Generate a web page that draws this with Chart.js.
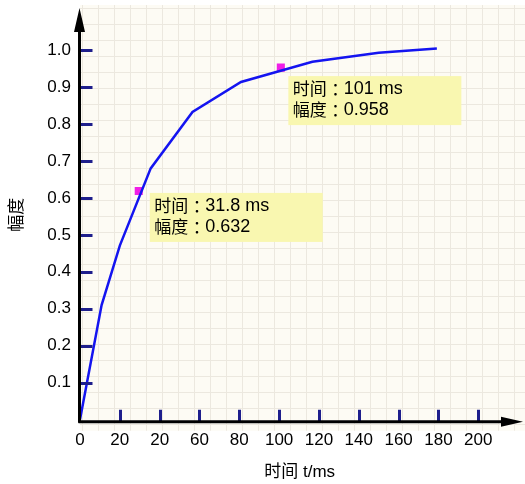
<!DOCTYPE html>
<html lang="zh">
<head>
  <meta charset="UTF-8" />
  <title>幅度 - 时间</title>
  <script src="https://cdn.jsdelivr.net/npm/chart.js"></script>
  <style>
    body { margin: 0; background: #fff; }
    canvas { display: block; }
  </style>
</head>
<body>
  <canvas id="chart" width="525" height="484"></canvas>

  <script>
    // curve
    const tValues = [0, 10.85, 20, 35.5, 56.5, 80.85, 116.7, 150, 179.2];
    const ampValues = [0, 0.31, 0.471, 0.68, 0.833, 0.914, 0.969, 0.993, 1.005];

    // marked points + their labels
    const markT = [29.5, 100.85];
    const markAmp = [0.619, 0.953];
    const markTimeText = ['时间：31.8 ms', '时间：101 ms'];
    const markAmpText = ['幅度：0.632', '幅度：0.958'];

    // ticks (the second "20" is really in the original)
    const xTickValues = [0, 20, 40, 60, 80, 100, 120, 140, 160, 180, 200];
    const xTickLabels = ['0', '20', '20', '60', '80', '100', '120', '140', '160', '180', '200'];
    const yTickValues = [0.1, 0.2, 0.3, 0.4, 0.5, 0.6, 0.7, 0.8, 0.9, 1.0];
    const yTickLabels = ['0.1', '0.2', '0.3', '0.4', '0.5', '0.6', '0.7', '0.8', '0.9', '1.0'];

    const FONT = '"Liberation Sans", "Noto Sans CJK SC", sans-serif';

    // background paper, axes with arrows, inward tick marks, note boxes
    const paperPlugin = {
      id: 'paper',
      beforeDraw(chart) {
        const { ctx, chartArea: a } = chart;
        ctx.save();
        ctx.fillStyle = '#fdfbf4';
        ctx.fillRect(a.left, a.top - 3, chart.width - a.left, a.bottom - a.top + 12);
        ctx.strokeStyle = '#ece8df';
        ctx.lineWidth = 1;
        ctx.beginPath();
        for (let x = a.left + 2.5; x < chart.width; x += 16) {
          ctx.moveTo(x, a.top - 3);
          ctx.lineTo(x, a.bottom + 9);
        }
        for (let y = Math.round(a.bottom) + 2.5; y > a.top - 3; y -= 16) {
          ctx.moveTo(a.left, y);
          ctx.lineTo(chart.width, y);
        }
        ctx.stroke();
        ctx.restore();
      },
      afterDatasetsDraw(chart) {
        const { ctx, scales: { x, y }, chartArea: a } = chart;
        const x0 = x.getPixelForValue(0) - 0.5;
        const yAxis = a.bottom;
        const tipX = chart.width - 2;
        ctx.save();

        // tick marks pointing into the plot
        ctx.strokeStyle = '#1e1e8c';
        ctx.lineWidth = 3;
        ctx.beginPath();
        yTickValues.forEach(v => {
          const py = Math.round(y.getPixelForValue(v)) + 0.5;
          ctx.moveTo(x0, py);
          ctx.lineTo(x0 + 13, py);
        });
        xTickValues.slice(1).forEach(v => {
          const px = Math.round(x.getPixelForValue(v)) + 0.5;
          ctx.moveTo(px, yAxis);
          ctx.lineTo(px, yAxis - 12);
        });
        ctx.stroke();

        // axes
        ctx.strokeStyle = '#000';
        ctx.fillStyle = '#000';
        ctx.lineWidth = 3;
        ctx.beginPath();
        ctx.moveTo(x0, yAxis + 1);
        ctx.lineTo(x0, a.top + 20);
        ctx.moveTo(x0 - 1, yAxis);
        ctx.lineTo(tipX - 14, yAxis);
        ctx.stroke();
        ctx.beginPath();
        ctx.moveTo(x0, a.top);
        ctx.lineTo(x0 - 5.5, a.top + 24);
        ctx.lineTo(x0 + 5.5, a.top + 24);
        ctx.closePath();
        ctx.moveTo(tipX, yAxis);
        ctx.lineTo(tipX - 22, yAxis - 5);
        ctx.lineTo(tipX - 22, yAxis + 5);
        ctx.closePath();
        ctx.fill();

        // yellow note boxes next to the marked points
        const boxOffsets = [[11, 2], [7.5, 8.5]];
        const cjkFont = '17px "Noto Sans CJK SC", sans-serif';
        const numFont = '18px "Liberation Sans", sans-serif';
        const drawLine = (txt, tx, ty) => {
          const cut = txt.indexOf('：');
          const head = txt.slice(0, cut);
          ctx.font = cjkFont;
          ctx.textAlign = 'left';
          ctx.fillText(head, tx, ty);
          let cx = tx + ctx.measureText(head).width;
          // full-width colon, ink centred in its 17px cell
          const m = ctx.measureText('：');
          const inkMid = (m.actualBoundingBoxRight - m.actualBoundingBoxLeft) / 2;
          ctx.fillText('：', cx + 8.5 - inkMid, ty);
          cx += 17;
          ctx.font = numFont;
          ctx.fillText(txt.slice(cut + 1), cx, ty + 0.5);
        };
        ctx.textBaseline = 'middle';
        markT.forEach((t, i) => {
          const px = x.getPixelForValue(t);
          const py = y.getPixelForValue(markAmp[i]);
          const bx = px + boxOffsets[i][0];
          const by = py + boxOffsets[i][1];
          ctx.fillStyle = '#f9f7b0';
          ctx.fillRect(bx, by, 173, 49);
          ctx.fillStyle = '#000';
          drawLine(markTimeText[i], bx + 4.5, by + 12.5);
          drawLine(markAmpText[i], bx + 4.5, by + 33.5);
        });
        ctx.restore();
      }
    };

    new Chart(document.getElementById('chart'), {
      type: 'scatter',
      data: {
        datasets: [
          {
            label: 'curve',
            data: tValues.map((t, i) => ({ x: t, y: ampValues[i] })),
            showLine: true,
            borderColor: '#1414f0',
            borderWidth: 2.5,
            pointRadius: 0,
            fill: false
          },
          {
            label: 'marks',
            data: markT.map((t, i) => ({ x: t, y: markAmp[i] })),
            pointStyle: 'rect',
            pointRadius: 5.7,
            backgroundColor: '#f01ee6',
            borderWidth: 0
          }
        ]
      },
      options: {
        responsive: false,
        animation: false,
        layout: { padding: { top: 8, right: 1, left: 0, bottom: 0 } },
        plugins: {
          legend: { display: false },
          tooltip: { enabled: false }
        },
        scales: {
          x: {
            type: 'linear',
            min: 0,
            max: 220.6,
            afterBuildTicks: s => { s.ticks = xTickValues.map(v => ({ value: v })); },
            afterFit: s => { s.height = 62.3; s.paddingLeft = 0; s.paddingRight = 0; },
            grid: { display: false, drawTicks: false },
            border: { display: false },
            ticks: {
              autoSkip: false,
              maxRotation: 0,
              padding: 8,
              color: '#000',
              font: { family: FONT, size: 17 },
              callback: (v, i) => xTickLabels[i]
            },
            title: {
              display: true,
              text: '时间 t/ms',
              color: '#000',
              font: { family: FONT, size: 17 },
              padding: { top: 0, bottom: 1 }
            }
          },
          y: {
            min: -0.006,
            max: 1.1144,
            afterBuildTicks: s => { s.ticks = yTickValues.map(v => ({ value: v })); },
            afterFit: s => { s.width = 80; s.paddingTop = 0; s.paddingBottom = 0; },
            grid: { display: false, drawTicks: false },
            border: { display: false },
            ticks: {
              autoSkip: false,
              padding: 9,
              color: '#000',
              font: { family: FONT, size: 17 },
              callback: (v, i) => yTickLabels[i]
            },
            title: {
              display: true,
              text: '幅度',
              color: '#000',
              font: { family: FONT, size: 17 },
              padding: { top: 7, bottom: 0 }
            }
          }
        }
      },
      plugins: [paperPlugin]
    });
  </script>
</body>
</html>
